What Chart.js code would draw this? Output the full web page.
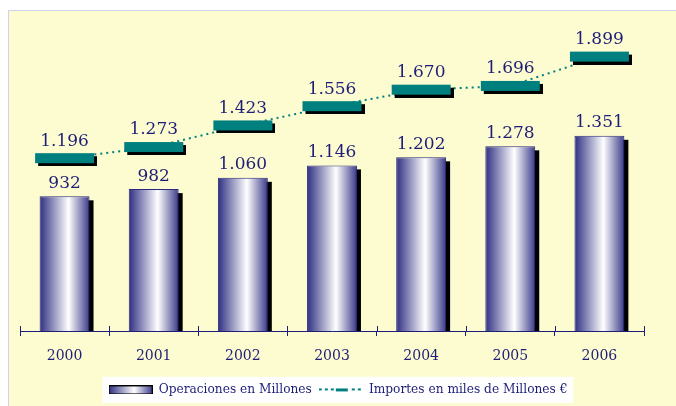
<!DOCTYPE html>
<html>
<head>
<meta charset="utf-8">
<script src="https://cdn.jsdelivr.net/npm/chart.js@4.4.1/dist/chart.umd.min.js"></script>
<style>
  html, body { margin: 0; padding: 0; background: #fff; }
  #wrap { width: 676px; height: 406px; }
</style>
</head>
<body>
<div id="wrap"><canvas id="chart"></canvas></div>
<script>
var years = ['2000', '2001', '2002', '2003', '2004', '2005', '2006'];
var operaciones = [932, 982, 1060, 1146, 1202, 1278, 1351];
var importes = [1196, 1273, 1423, 1556, 1670, 1696, 1899];
var serieLabels = ['Operaciones en Millones', 'Importes en miles de Millones €'];

var navy = '#1e1e78';
var teal = '#007f7f';
var serif = "'DejaVu Serif', serif";
var barPct = 0.56;

// 1.196 style thousands
function fmt(v) {
  return String(v).replace(/\B(?=(\d{3})+(?!\d))/g, '.');
}

function barGradient(ctx, x0, x1) {
  var g = ctx.createLinearGradient(x0, 0, x1, 0);
  g.addColorStop(0, '#2e2e82');
  g.addColorStop(0.58, '#ffffff');
  g.addColorStop(1, '#3a3a8a');
  return g;
}

// teal dash marker with black shadow
var marker = document.createElement('canvas');
marker.width = 65; marker.height = 16;
var m = marker.getContext('2d');
m.fillStyle = '#000'; m.fillRect(6, 6, 59, 10);
m.fillStyle = teal; m.fillRect(3, 3, 59, 10);

// legend swatches
var barSwatch = document.createElement('canvas');
barSwatch.width = 44; barSwatch.height = 9;
var b = barSwatch.getContext('2d');
b.fillStyle = barGradient(b, 0, 44); b.fillRect(0, 0, 44, 9);
b.strokeStyle = '#000'; b.lineWidth = 1; b.strokeRect(0.5, 0.5, 43, 8);

var lineSwatch = document.createElement('canvas');
lineSwatch.width = 44; lineSwatch.height = 9;
var l = lineSwatch.getContext('2d');
l.fillStyle = teal;
[0, 6, 12, 33, 39].forEach(function (x) { l.fillRect(x, 3, 3, 2); });
l.fillRect(17, 3, 12, 3);

var backdrop = {
  id: 'backdrop',
  beforeDraw: function (chart) {
    var ctx = chart.ctx, w = chart.width, h = chart.height;
    ctx.save();
    ctx.fillStyle = '#fff';
    ctx.fillRect(0, 0, w, h);
    ctx.fillStyle = '#fdfcd0';
    ctx.fillRect(8, 10, w - 8, h - 10);
    ctx.strokeStyle = '#cfcff0';
    ctx.lineWidth = 1;
    ctx.beginPath();
    ctx.moveTo(8.5, h); ctx.lineTo(8.5, 10.5); ctx.lineTo(w, 10.5);
    ctx.stroke();
    var boxes = chart.legend && chart.legend.legendHitBoxes;
    if (boxes && boxes.length) {
      var x0 = Math.min.apply(null, boxes.map(function (h) { return h.left; }));
      var x1 = Math.max.apply(null, boxes.map(function (h) { return h.left + h.width; }));
      var y0 = Math.min.apply(null, boxes.map(function (h) { return h.top; }));
      var y1 = Math.max.apply(null, boxes.map(function (h) { return h.top + h.height; }));
      ctx.fillStyle = '#fff';
      ctx.fillRect(x0 - 6, y0 - 7, x1 - x0 + 12, y1 - y0 + 14);
    }
    ctx.restore();
  },
  beforeDatasetDraw: function (chart, args) {
    if (args.index !== 0) return;
    // black drop shadow behind each bar
    var ctx = chart.ctx;
    ctx.save();
    ctx.fillStyle = '#000';
    chart.getDatasetMeta(0).data.forEach(function (el) {
      var p = el.getProps(['x', 'y', 'base', 'width']);
      ctx.fillRect(p.x - p.width / 2 + 4, p.y + 4, p.width, p.base - p.y - 4);
    });
    ctx.restore();
  },
  afterDatasetsDraw: function (chart) {
    var ctx = chart.ctx;
    ctx.save();
    ctx.font = '17px ' + serif;
    ctx.fillStyle = navy;
    ctx.textAlign = 'center';
    ctx.textBaseline = 'middle';
    chart.getDatasetMeta(0).data.forEach(function (el, i) {
      ctx.fillText(fmt(operaciones[i]), el.x, el.y - 13);
    });
    chart.getDatasetMeta(1).data.forEach(function (el, i) {
      ctx.fillText(fmt(importes[i]), el.x, el.y - 17);
    });
    // small tick marks rising above the axis
    var xs = chart.scales.x, y = chart.chartArea.bottom;
    ctx.strokeStyle = navy;
    ctx.lineWidth = 1;
    for (var i = 0; i <= years.length; i++) {
      var px = Math.round(xs.left + i * xs.width / years.length) + 0.5;
      ctx.beginPath(); ctx.moveTo(px, y - 5); ctx.lineTo(px, y); ctx.stroke();
    }
    ctx.restore();
  }
};

new Chart(document.getElementById('chart'), {
  data: {
    labels: years,
    datasets: [{
      type: 'bar',
      label: serieLabels[0],
      data: operaciones,
      order: 2,
      clip: 0,
      barPercentage: barPct,
      categoryPercentage: 1,
      borderColor: '#2a2a7e',
      borderWidth: { top: 1, left: 1, right: 1, bottom: 0 },
      borderSkipped: false,
      backgroundColor: function (c) {
        var chart = c.chart, xs = chart.scales.x;
        if (!xs || c.dataIndex === undefined) return navy;
        var cx = xs.getPixelForValue(c.dataIndex);
        var half = xs.width / years.length * barPct / 2;
        return barGradient(chart.ctx, cx - half, cx + half);
      }
    }, {
      type: 'line',
      label: serieLabels[1],
      data: importes,
      order: 1,
      borderColor: teal,
      borderWidth: 2,
      borderDash: [2, 4],
      pointStyle: marker,
      pointRadius: 6,
      pointHoverRadius: 6
    }]
  },
  options: {
    responsive: true,
    maintainAspectRatio: false,
    animation: false,
    layout: { padding: { left: 20, right: 20, top: 42, bottom: 0 } },
    scales: {
      x: {
        z: 1,
        grid: { display: true, drawOnChartArea: false, tickLength: 5, color: navy, offset: true },
        border: { display: true, color: navy, width: 1 },
        ticks: { color: navy, font: { family: serif, size: 14 }, padding: 12 }
      },
      y: {
        position: 'right',
        min: 0,
        max: 2000,
        grid: { display: false },
        border: { display: false },
        ticks: { display: false },
        afterFit: function (scale) { scale.width = 12; }
      }
    },
    plugins: {
      tooltip: { enabled: false },
      legend: {
        position: 'bottom',
        onClick: null,
        labels: {
          usePointStyle: true,
          pointStyleWidth: 44,
          color: navy,
          padding: 7,
          font: { family: serif, size: 12.2 },
          generateLabels: function () {
            return [
              { text: serieLabels[0], pointStyle: barSwatch, fontColor: navy, hidden: false, lineWidth: 0, datasetIndex: 0 },
              { text: serieLabels[1], pointStyle: lineSwatch, fontColor: navy, hidden: false, lineWidth: 0, datasetIndex: 1 }
            ];
          }
        }
      }
    }
  },
  plugins: [backdrop]
});
</script>
</body>
</html>
